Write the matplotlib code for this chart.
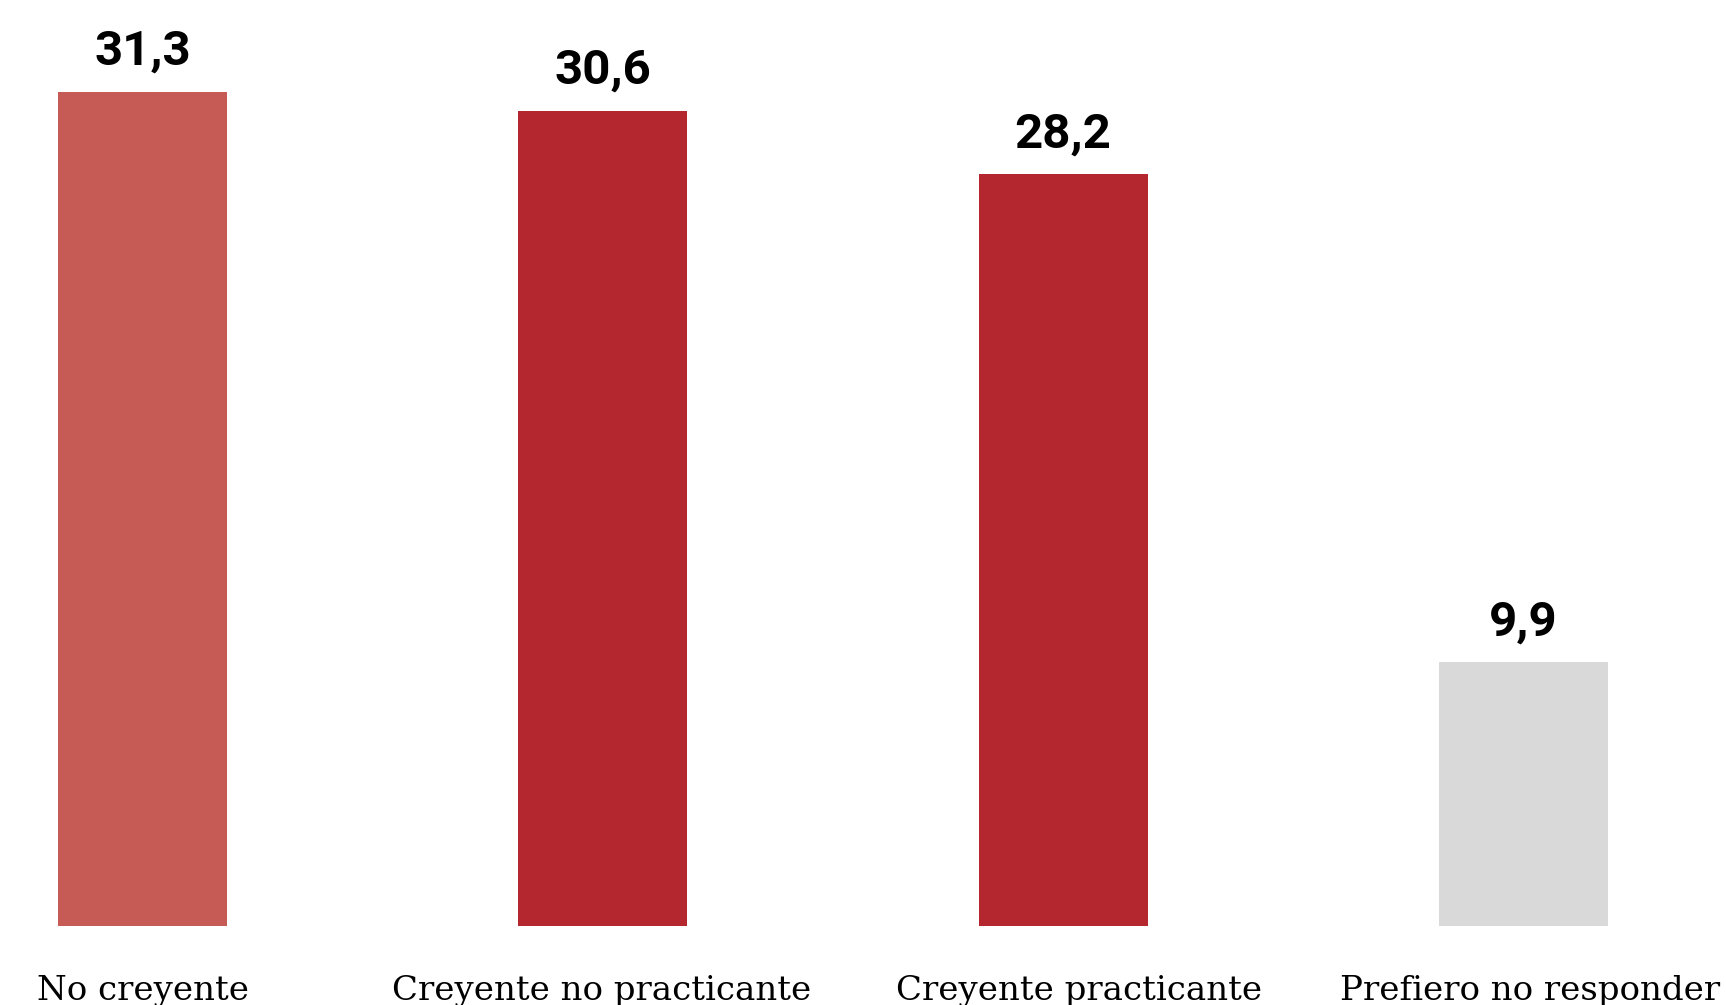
import matplotlib
matplotlib.use("Agg")
import matplotlib.pyplot as plt

categories = ["No creyente", "Creyente no practicante", "Creyente practicante", "Prefiero no responder"]
values = [31.3, 30.6, 28.2, 9.9]
value_labels = ["31,3", "30,6", "28,2", "9,9"]
colors = ["#C65A55", "#B5272E", "#B5272E", "#D9D9D9"]

DPI = 100
fig = plt.figure(figsize=(17.26, 10.05), dpi=DPI)
ax = fig.add_axes([0, (1005 - 926) / 1005, 1, 926 / 1005])
ax.set_ylim(0, 926 / 26.65)
ax.set_xlim(-142.5 / 460.3, (1726 - 142.5) / 460.3)
ax.axis("off")

xs = list(range(len(categories)))
bars = ax.bar(xs, values, width=0.367, color=colors)

for b, lab in zip(bars, value_labels):
    ax.annotate(lab, (b.get_x() + b.get_width() / 2, b.get_height()),
                xytext=(0, 19.5), textcoords="offset points",
                ha="center", va="baseline", fontsize=35.5, fontweight="bold",
                family="Roboto", color="black")

label_dx = [0, -1, 16, 7]  # pixel nudges
for x, c, dx in zip(xs, categories, label_dx):
    ax.annotate(c, (x, 0), xytext=(dx * 72 / DPI, -74 * 72 / DPI),
                textcoords="offset points", ha="center", va="baseline",
                fontsize=24.5, family="DejaVu Serif", color="black",
                annotation_clip=False)

fig.savefig("out.png", dpi=DPI)
